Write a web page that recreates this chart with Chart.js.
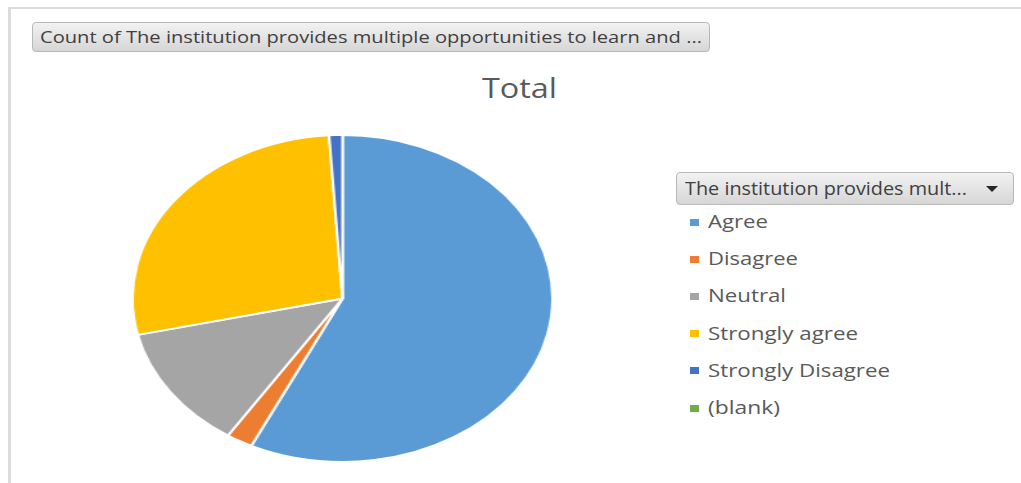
<!DOCTYPE html>
<html>
<head>
<meta charset="utf-8">
<script src="https://cdn.jsdelivr.net/npm/chart.js@4.4.1/dist/chart.umd.min.js"></script>
<style>
  html, body { margin:0; padding:0; background:#fff; }
  body { width:1021px; height:483px; position:relative; overflow:hidden; font-family:"Open Sans", "Noto Sans", sans-serif; }
  .frameTop { position:absolute; left:8px; top:7px; width:1013px; height:2px; background:#dcdcdc; }
  .frameLeft { position:absolute; left:8px; top:7px; width:3px; height:476px; background:#dcdcdc; }
  .btn { position:absolute; box-sizing:border-box; border:1px solid #b8b8b8; border-radius:4px;
         background:linear-gradient(#f2f2f2, #d6d6d6); }
  .fit { position:absolute; white-space:nowrap; transform-origin:0 50%; line-height:1; }
  #pieWrap { position:absolute; left:177.5px; top:134px; width:329px; height:329px;
             transform-origin:164.5px 164.5px; transform:scaleX(1.2844); }
  .sw { position:absolute; width:9px; height:7px; }
  .arrow { position:absolute; width:0; height:0; border-left:6px solid transparent; border-right:6px solid transparent; border-top:6px solid #262626; }
</style>
</head>
<body>
<div class="frameTop"></div>
<div class="frameLeft"></div>

<div class="btn" style="left:32px; top:22px; width:678px; height:30px;"></div>
<span class="fit" id="hdr" data-w="662" style="left:40px; top:28px; font-size:17px; color:#404040;"></span>

<span class="fit" id="title" data-w="75" style="left:482px; top:73px; font-size:28px; color:#595959;"></span>

<div id="pieWrap"><canvas id="c"></canvas></div>

<div class="btn" style="left:676px; top:172px; width:338px; height:33px;"></div>
<span class="fit" id="lgHdr" data-w="282" style="left:685px; top:179px; font-size:18px; color:#404040;"></span>
<div class="arrow" style="left:986px; top:186px;"></div>

<div id="legend"></div>

<script>
// ---- data ----
const categories = ["Agree", "Disagree", "Neutral", "Strongly agree", "Strongly Disagree", "(blank)"];
const counts = [56, 2, 12, 27, 1, 0];
const colors = ["#5B9BD5", "#ED7D31", "#A5A5A5", "#FFC000", "#4472C4", "#70AD47"];
const headerText = "Count of The institution provides multiple opportunities to learn and ...";
const titleText = "Total";
const legendHeader = "The institution provides mult...";
const legendWidths = [60, 90, 78, 150, 182, 72];

document.getElementById('hdr').textContent = headerText;
document.getElementById('title').textContent = titleText;
document.getElementById('lgHdr').textContent = legendHeader;

const legend = document.getElementById('legend');
categories.forEach((cat, i) => {
  const y = 222 + i * 37.2;
  const sw = document.createElement('div');
  sw.className = 'sw';
  sw.style.left = '690px';
  sw.style.top = (y - 3.5) + 'px';
  sw.style.background = colors[i];
  legend.appendChild(sw);
  const t = document.createElement('span');
  t.className = 'fit';
  t.textContent = cat;
  t.dataset.w = legendWidths[i];
  t.style.left = '708px';
  t.style.top = (y - 10) + 'px';
  t.style.fontSize = '19px';
  t.style.color = '#595959';
  legend.appendChild(t);
});

function fitAll() {
  document.querySelectorAll('.fit').forEach(el => {
    el.style.transform = 'none';
    const w = el.getBoundingClientRect().width;
    const target = parseFloat(el.dataset.w);
    if (w > 0 && target) el.style.transform = 'scaleX(' + (target / w) + ')';
  });
}
fitAll();
if (document.fonts && document.fonts.ready) document.fonts.ready.then(fitAll);

new Chart(document.getElementById('c'), {
  type: 'pie',
  data: {
    labels: categories,
    datasets: [{
      data: counts,
      backgroundColor: colors,
      borderColor: '#ffffff',
      borderWidth: 2
    }]
  },
  options: {
    responsive: true,
    maintainAspectRatio: false,
    animation: false,
    layout: { padding: 0 },
    plugins: {
      legend: { display: false },
      title: { display: false },
      tooltip: { enabled: false }
    }
  }
});
</script>
</body>
</html>
